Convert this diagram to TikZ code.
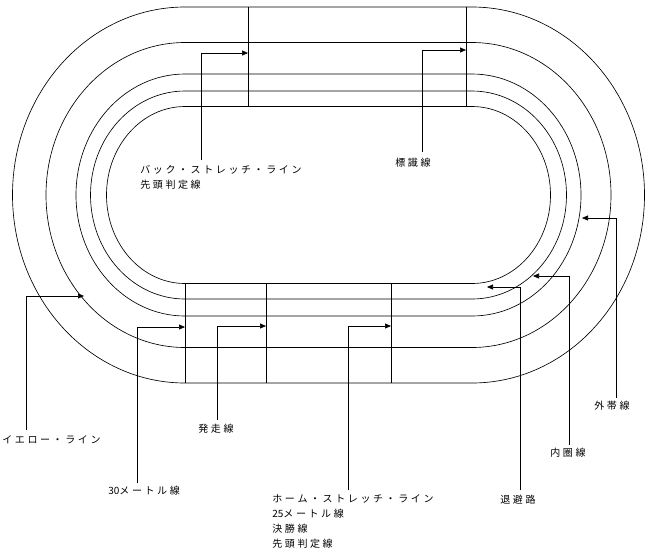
\documentclass[tikz,border=0pt]{standalone}
\usepackage{fontspec}
\newfontfamily\jp{Noto Sans CJK JP}
\usetikzlibrary{arrows.meta}
\newcommand\g{\kern2.6pt\relax}
\begin{document}
\begin{tikzpicture}[x=1pt,y=-1pt,line width=0.65pt,
  lab/.style={font=\jp\fontsize{10}{15}\selectfont,inner sep=0pt,anchor=north west,align=left},
  ptr/.style={-{Triangle[length=6pt,width=5pt]}}]
\useasboundingbox (0,0) rectangle (650,558);
\foreach \rx/\ry in {172.5/188,139/152.5,109/121,94.5/104,78.5/88.5}{
  \draw (185,195-\ry) -- (472,195-\ry) arc[start angle=-90,end angle=90,x radius=\rx,y radius=\ry]
        -- (185,195+\ry) arc[start angle=90,end angle=270,x radius=\rx,y radius=\ry] -- cycle;
}
\draw (248,7) -- (248,106.5) (466,7) -- (466,106.5);
\draw (185,283.5) -- (185,383) (266,283.5) -- (266,383) (391,283.5) -- (391,383);
\coordinate (bs) at (201,160); \coordinate (bsT) at (248,53);
\coordinate (hy) at (422,152); \coordinate (hyT) at (466,50);
\coordinate (gt) at (616,398); \coordinate (gtT) at (582,218);
\coordinate (nk) at (569,445); \coordinate (nkT) at (533,276);
\coordinate (th) at (520,490); \coordinate (thT) at (487,287);
\coordinate (yl) at (26,430); \coordinate (ylT) at (84,296);
\coordinate (m30) at (137,483); \coordinate (m30T) at (185,327);
\coordinate (hs) at (217,420); \coordinate (hsT) at (266,326);
\coordinate (hm) at (348,490); \coordinate (hmT) at (391,326);
\draw[ptr] (bs) |- (bsT);
\draw[ptr] (hy) |- (hyT);
\draw[ptr] (gt) |- (gtT);
\draw[ptr] (nk) |- (nkT);
\draw[ptr] (th) |- (thT);
\draw[ptr] (yl) |- (ylT);
\draw[ptr] (m30) |- (m30T);
\draw[ptr] (hs) |- (hsT);
\draw[ptr] (hm) |- (hmT);
\node[lab] (l1) at (140,165) {バ\g ッ\g ク\g ・\g ス\g ト\g レ\g ッ\g チ\g ・\g ラ\g イ\g ン\\先\g 頭\g 判\g 定\g 線};
\node[lab] (l2) at (395,158) {標\g 識\g 線};
\node[lab] (l3) at (594,401) {外\g 帯\g 線};
\node[lab] (l4) at (550,448) {内\g 圏\g 線};
\node[lab] (l5) at (500,495) {退\g 避\g 路};
\node[lab] (l6) at (2,435) {イ\g エ\g ロ\g ー\g ・\g ラ\g イ\g ン};
\node[lab] (l7) at (108,486) {30メ\g ー\g ト\g ル\g 線};
\node[lab] (l8) at (198,424) {発\g 走\g 線};
\node[lab] (l9) at (272,494) {ホ\g ー\g ム\g ・\g ス\g ト\g レ\g ッ\g チ\g ・\g ラ\g イ\g ン\\25メ\g ー\g ト\g ル\g 線\\決\g 勝\g 線\\先\g 頭\g 判\g 定\g 線};
\end{tikzpicture}
\end{document}
